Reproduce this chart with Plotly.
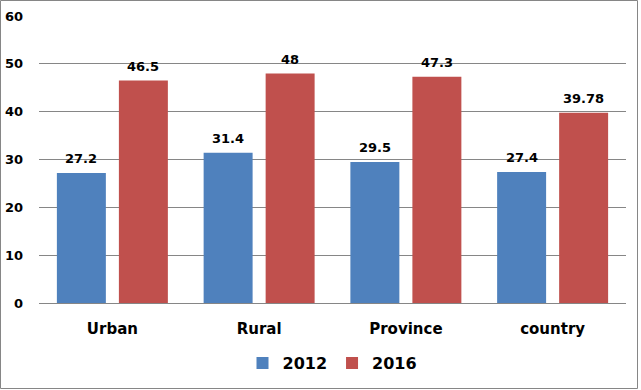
import plotly.graph_objects as go

categories = ["Urban", "Rural", "Province", "country"]
values_2012 = [27.2, 31.4, 29.5, 27.4]
values_2016 = [46.5, 48, 47.3, 39.78]
labels_2012 = ["27.2", "31.4", "29.5", "27.4"]
labels_2016 = ["46.5", "48", "47.3", "39.78"]
y_ticks = [0, 10, 20, 30, 40, 50, 60]

font_family = "DejaVu Sans"

fig = go.Figure()
fig.add_trace(go.Bar(
    x=categories, y=values_2012, name="2012",
    marker=dict(color="#4F81BD", line=dict(width=0)),
))
fig.add_trace(go.Bar(
    x=categories, y=values_2016, name="2016",
    marker=dict(color="#C0504D", line=dict(width=0)),
))

annotations = []
for series_vals, series_labels, shift in ((values_2012, labels_2012, -31),
                                          (values_2016, labels_2016, 31)):
    for c, v, t in zip(categories, series_vals, series_labels):
        annotations.append(dict(
            x=c, y=v, text=t, showarrow=False, xshift=shift, yshift=14,
            font=dict(family=font_family, size=13, color="#000000", weight="bold"),
            xref="x", yref="y",
        ))

fig.update_layout(
    width=641, height=390,
    margin=dict(l=39, r=15, t=16, b=87, autoexpand=False),
    paper_bgcolor="white", plot_bgcolor="white",
    barmode="group", bargap=0.155, bargroupgap=0.21,
    font=dict(family=font_family, color="#000000"),
    showlegend=True,
    legend=dict(orientation="h", x=0.5, xanchor="center", y=-0.209, yanchor="middle",
                font=dict(family=font_family, size=16, color="#000000", weight="bold"),
                itemwidth=30, traceorder="normal"),
    annotations=annotations,
)
fig.update_xaxes(
    showline=True, linecolor="#868686", linewidth=1, automargin=False,
    showgrid=False, ticks="", ticklabelstandoff=12,
    tickfont=dict(family=font_family, size=15, color="#000000", weight="bold"),
)
fig.update_yaxes(
    range=[0, 60], tickvals=y_ticks, showgrid=True, gridcolor="#868686", gridwidth=1,
    zeroline=False, showline=False, ticks="", ticklabelstandoff=15, automargin=False,
    tickfont=dict(family=font_family, size=13, color="#000000", weight="bold"),
)

# outer border of chart area
fig.add_shape(type="rect", xref="paper", yref="paper",
              x0=-38.5/587, x1=1 + 11.5/587, y0=-85.5/287, y1=1 + 15.5/287,
              line=dict(color="#868686", width=1), fillcolor="rgba(0,0,0,0)")

fig.write_html("out.html",
               config={"displayModeBar": False},
               post_script="document.body.style.margin='0';document.body.style.padding='0';")
